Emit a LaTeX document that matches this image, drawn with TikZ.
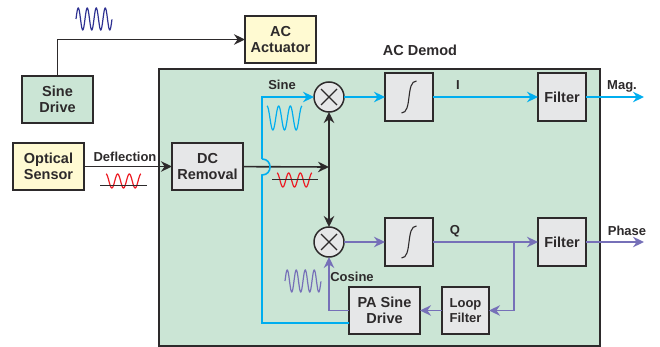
\documentclass[tikz,border=0pt]{standalone}
\usepackage{fontspec}
\setmainfont{Liberation Sans}
\usepackage{xcolor}
\usepackage{tikz}
\usetikzlibrary{arrows.meta, positioning}
\definecolor{ink}{RGB}{45,42,43}
\definecolor{sinecol}{RGB}{0,174,239}
\definecolor{cosinecol}{RGB}{118,112,184}
\definecolor{drivecol}{RGB}{46,49,146}
\definecolor{devcol}{RGB}{237,28,36}
\definecolor{lightgreen}{RGB}{203,229,213}
\definecolor{lightyellow}{RGB}{255,250,210}
\definecolor{lightgray}{RGB}{230,231,232}
\newcommand{\wavy}[7]{\draw[#1, line width=1.2pt, domain=0:1, samples=120, smooth]
  plot ({#2+#3*\x},{#4-#5*sin(360*#6*\x+#7)});}

\begin{document}
\begin{tikzpicture}[x=1pt, y=-1pt, font=\fontsize{14.5}{16.5}\selectfont\bfseries, text=ink,
  box/.style={rectangle, draw=ink, line width=1.5pt, fill=lightgray, outer sep=0pt,
              minimum width=71pt, minimum height=47pt, inner sep=0pt, align=center},
  ybox/.style={box, fill=lightyellow},
  gbox/.style={box, fill=lightgreen},
  sbox/.style={box, minimum width=48pt, minimum height=48pt},
  intbox/.style={sbox, path picture={\draw[ink, line width=1.1pt]
      ([xshift=-7.5pt,yshift=-16pt]path picture bounding box.center)
      .. controls +(11pt,0pt) and +(-11pt,0pt)
      .. ([xshift=7.5pt,yshift=16pt]path picture bounding box.center);}},
  mixer/.style={circle, draw=ink, line width=1.5pt, fill=lightgray, outer sep=0pt,
                minimum size=30pt, inner sep=0pt, path picture={\draw[ink, line width=1.3pt]
      ([xshift=-8pt,yshift=-8pt]path picture bounding box.center) -- ([xshift=8pt,yshift=8pt]path picture bounding box.center)
      ([xshift=-8pt,yshift=8pt]path picture bounding box.center) -- ([xshift=8pt,yshift=-8pt]path picture bounding box.center);}},
  lbl/.style={font=\fontsize{13}{15}\selectfont\bfseries, inner sep=0pt},
  a/.style={-{Stealth[length=11pt, width=10.5pt]}, line width=1.6pt, ink},
  s/.style={a, sinecol},
  c/.style={a, cosinecol}]
  \useasboundingbox (0,0) rectangle (660,347);
  \node[gbox, minimum width=441pt, minimum height=277pt] (demod) at (379.5,207.5) {};
  \node[ybox] (optical) at (48.5,166.5) {Optical\\Sensor};
  \node[box, right=88pt of optical] (dc) {DC\\Removal};
  \node[gbox] (drive) at (57.5,99.5) {Sine\\Drive};
  \node[ybox] (actuator) at (280.5,39.5) {AC\\Actuator};
  \node[mixer] (mixa) at (329,97) {};
  \node[intbox, right=41pt of mixa] (inta) {};
  \node[sbox, right=105pt of inta] (filta) {Filter};
  \node[mixer, below=115pt of mixa] (mixb) {};
  \node[intbox, right=41pt of mixb] (intb) {};
  \node[sbox, right=105pt of intb] (filtb) {Filter};
  \node[box] (pa) at (384.5,310.5) {PA Sine\\Drive};
  \node[box, minimum width=47pt, right=22pt of pa, font=\fontsize{13}{15}\selectfont\bfseries] (loop) {Loop\\Filter};
  \coordinate (mag) at (644,97);
  \coordinate (phase) at (644,242);
  \coordinate (branch) at (514,242);
  \coordinate (bumpbot) at (262,175);
  \coordinate (bumptop) at (262,159);
  \coordinate (junction) at (329,167);
  % labels
  \node[inner sep=0pt] (demodlbl) at (420,50) {AC Demod};
  \node[lbl] (deflbl) at (125,157) {Deflection};
  \node[lbl] (sinelbl) at (282,85) {Sine};
  \node[lbl] (ilbl) at (458,85) {I};
  \node[lbl] (maglbl) at (622,86) {Mag.};
  \node[lbl] (qlbl) at (455,231) {Q};
  \node[lbl] (phaselbl) at (627,231) {Phase};
  \node[lbl] (coslbl) at (352,277) {Cosine};
  % black
  \draw[a] (drive.north) |- (actuator.west);
  \draw[a] (optical) -- (dc);
  \draw[a] (dc) -- (junction);
  \draw[a] (junction) -- (mixa);
  \draw[a] (junction) -- (mixb);
  % sine path
  \draw[s, -] ([yshift=-12.5pt]pa.west) -| (bumpbot)
    .. controls +(10.7pt,0pt) and +(10.7pt,0pt) .. (bumptop);
  \draw[s] (bumptop) |- (mixa.west);
  \draw[s] (mixa) -- (inta);
  \draw[s] (inta) -- (filta);
  \draw[s] (filta) -- (mag);
  % cosine path
  \draw[c] (mixb) -- (intb);
  \draw[c] (intb) -- (filtb);
  \draw[c] (filtb) -- (phase);
  \draw[c] (branch) |- (loop.east);
  \draw[c] (loop) -- (pa);
  \draw[c] (pa.west) -| (mixb.south);
  % waveforms
  \wavy{drivecol}{76}{36}{19}{11}{4}{0}
  \wavy{sinecol}{267}{35}{118}{12}{3}{90}
  \wavy{devcol}{106}{35}{181}{7}{3}{90}
  \wavy{devcol}{277}{35}{180}{7}{3}{90}
  \wavy{cosinecol}{285}{36}{281}{11}{4}{0}
  \draw[ink, line width=0.5pt] (100,185) -- (147,185);
  \draw[ink, line width=0.5pt] (272,179) -- (318,179);
\end{tikzpicture}
\end{document}
